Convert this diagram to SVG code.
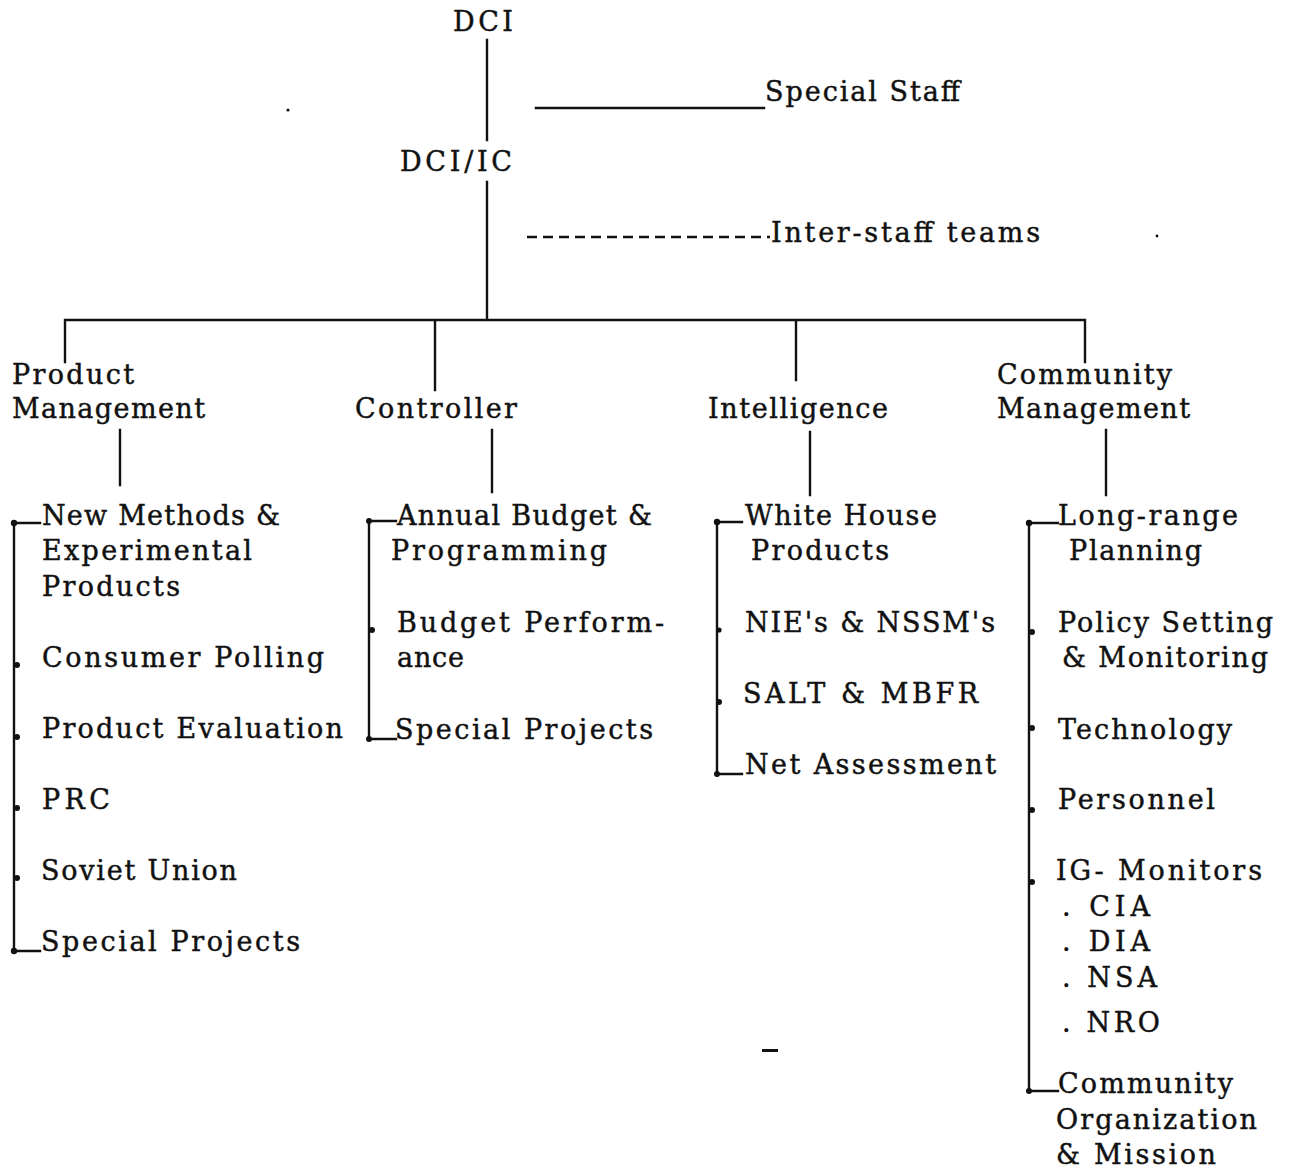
<svg xmlns="http://www.w3.org/2000/svg" width="1293" height="1168" viewBox="0 0 1293 1168">
<style>
text{font-family:"DejaVu Serif","Liberation Serif",serif;font-size:27px;fill:#111;stroke:#111;stroke-width:0.45;}
.ln{stroke:#111;stroke-width:2.4;fill:none;stroke-linecap:square;}
.dash{stroke:#111;stroke-width:2.4;fill:none;stroke-dasharray:10 6;}
.dot{fill:#111;}
</style>
<rect width="1293" height="1168" fill="#fff"/>
<g id="connectors">
<path class="ln" d="M487 40V140M487 182V320M65 320H1085M65 320V362M435 320V390M796 320V380M1085 320V362"/>
<path class="ln" d="M536 108H764"/>
<path class="dash" d="M527 237H770"/>
<path class="ln" d="M120 430V485M492 430V492M810 432V495M1106 430V495"/>
<path class="ln" d="M40 523H14V951H40"/>
<path class="ln" d="M396 521H369V739H396"/>
<path class="ln" d="M742 522H717V774H742"/>
<path class="ln" d="M1058 523H1029V1091H1058"/>
<g class="dot">
<circle cx="14" cy="523" r="3.2"/><circle cx="14" cy="951" r="3.2"/>
<circle cx="17" cy="665" r="3"/><circle cx="17" cy="737" r="3"/><circle cx="17" cy="808" r="3"/><circle cx="17" cy="878" r="3"/>
<circle cx="369" cy="521" r="3"/><circle cx="369" cy="739" r="3"/><circle cx="372" cy="630" r="3"/>
<circle cx="717" cy="522" r="3.2"/><circle cx="717" cy="774" r="3"/><circle cx="719" cy="630" r="2.6"/><circle cx="719" cy="702" r="3"/>
<circle cx="1029" cy="523" r="3.2"/><circle cx="1029" cy="1091" r="3"/><circle cx="1032" cy="632" r="3"/><circle cx="1032" cy="728" r="3"/><circle cx="1032" cy="810" r="3"/><circle cx="1032" cy="882" r="3"/>
</g>
</g>
<g id="marks">
<circle cx="288" cy="110" r="1.6" fill="#111"/>
<circle cx="1157" cy="236" r="1.4" fill="#111"/>
<rect x="762" y="1049" width="16" height="3" fill="#111"/>
</g>
<g id="dci"><text x="453" y="31" textLength="60">DCI</text></g>
<g id="special-staff"><text x="765" y="101" textLength="195">Special Staff</text></g>
<g id="dci-ic"><text x="400" y="171" textLength="112">DCI/IC</text></g>
<g id="inter-staff"><text x="771" y="242" textLength="269">Inter-staff teams</text></g>
<g id="product-management">
<text x="12" y="384" textLength="122">Product</text>
<text x="12" y="418" textLength="193">Management</text>
</g>
<g id="controller"><text x="355" y="418" textLength="162">Controller</text></g>
<g id="intelligence"><text x="708" y="418" textLength="180">Intelligence</text></g>
<g id="community-management">
<text x="997" y="384" textLength="175">Community</text>
<text x="997" y="418" textLength="193">Management</text>
</g>
<g id="pm-items">
<text x="42" y="525" textLength="238">New Methods &amp;</text>
<text x="42" y="560" textLength="210">Experimental</text>
<text x="42" y="596" textLength="138">Products</text>
<text x="42" y="667" textLength="282">Consumer Polling</text>
<text x="42" y="738" textLength="301">Product Evaluation</text>
<text x="42" y="809" textLength="68">PRC</text>
<text x="41" y="880" textLength="196">Soviet Union</text>
<text x="41" y="951" textLength="259">Special Projects</text>
</g>
<g id="ctrl-items">
<text x="397" y="525" textLength="255">Annual Budget &amp;</text>
<text x="391" y="560" textLength="216">Programming</text>
<text x="397" y="632" textLength="267">Budget Perform-</text>
<text x="397" y="667" textLength="67">ance</text>
<text x="395" y="739" textLength="258">Special Projects</text>
</g>
<g id="intel-items">
<text x="745" y="525" textLength="192">White House</text>
<text x="751" y="560" textLength="138">Products</text>
<text x="745" y="632" textLength="250">NIE's &amp; NSSM's</text>
<text x="743" y="703" textLength="235">SALT &amp; MBFR</text>
<text x="745" y="774" textLength="251">Net Assessment</text>
</g>
<g id="cm-items">
<text x="1058" y="525" textLength="180">Long-range</text>
<text x="1069" y="560" textLength="133">Planning</text>
<text x="1058" y="632" textLength="215">Policy Setting</text>
<text x="1062" y="667" textLength="206">&amp; Monitoring</text>
<text x="1058" y="739" textLength="174">Technology</text>
<text x="1058" y="809" textLength="157">Personnel</text>
<text x="1056" y="880" textLength="206">IG- Monitors</text>
<text x="1062" y="916" textLength="88">. CIA</text>
<text x="1062" y="951" textLength="88">. DIA</text>
<text x="1062" y="987" textLength="95">. NSA</text>
<text x="1062" y="1032" textLength="98">. NRO</text>
<text x="1058" y="1093" textLength="175">Community</text>
<text x="1056" y="1129" textLength="201">Organization</text>
<text x="1056" y="1164" textLength="160">&amp; Mission</text>
</g>
</svg>
